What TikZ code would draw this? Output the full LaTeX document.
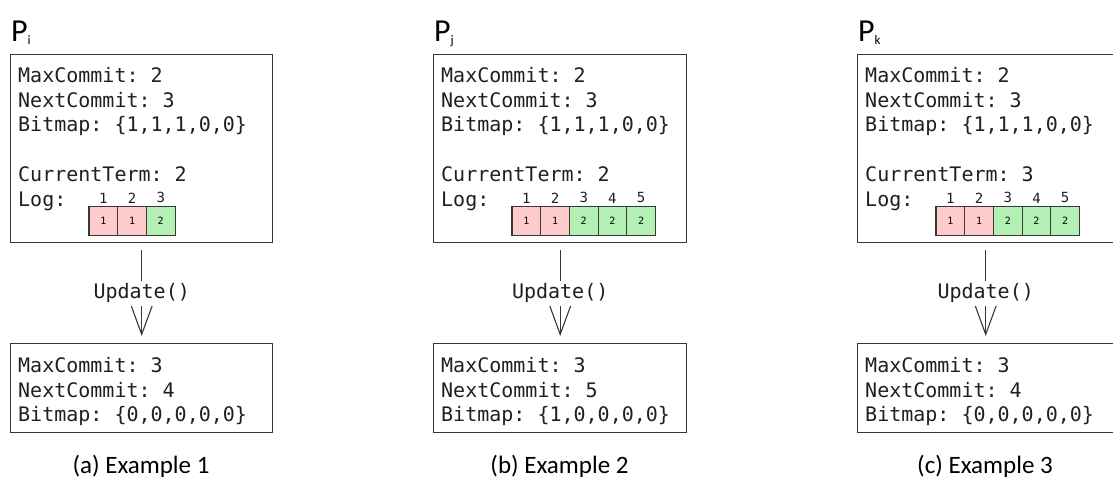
\documentclass[tikz,border=0pt]{standalone}
\usepackage{fontspec}
\setmainfont{Carlito}
\setmonofont{DejaVu Sans Mono}
\usetikzlibrary{arrows.meta}
\definecolor{logpink}{RGB}{255,204,204}
\definecolor{loggreen}{RGB}{180,240,180}
\definecolor{boxgray}{RGB}{55,55,55}

\begin{document}
\begin{tikzpicture}[x=1pt,y=-1pt,
    statebox/.style={draw=boxgray, line width=1.4pt, inner sep=0pt, anchor=north west},
    statetext/.style={font=\ttfamily\fontsize{20}{24.8}\selectfont, align=left, inner sep=0pt, anchor=north west, text=black!88},
    logcell/.style={draw=boxgray, line width=1.1pt, minimum width=28.7pt, minimum height=28.5pt, inner sep=0pt, font=\ttfamily\fontsize{10}{10}\selectfont},
    collabel/.style={font=\ttfamily\fontsize{14}{14}\selectfont, inner sep=1pt, label distance=2pt, text=black!88},
    update/.style={draw=boxgray, line width=1.1pt, -{Straight Barb[length=30pt,width=22pt]}, shorten <=7pt, shorten >=7pt},
    updlabel/.style={fill=white, font=\ttfamily\fontsize{20}{20}\selectfont, inner sep=3pt, text=black!88},
    plabel/.style={font=\fontsize{32}{32}\selectfont, anchor=base west, inner sep=0pt},
    caption/.style={font=\fontsize{25}{25}\selectfont, inner sep=0pt}]
  \useasboundingbox (0,0) rectangle (1113,492);
  \foreach \n/\x/\w/\s/\t/\k/\nc/\bm/\num in {a/10/262/i/2/3/4/{0,0,0,0,0}/1,
      b/433/253/j/2/5/5/{1,0,0,0,0}/2, c/857/256/k/3/5/4/{0,0,0,0,0}/3}{
    % process name
    \node[plabel] (\n-p) at (\x+1,42) {P\raisebox{-3pt}{\fontsize{13}{13}\selectfont\s}};
    % state before update
    \node[statebox, minimum width=\w pt, minimum height=188pt] (\n-top) at (\x,54) {};
    \node[statetext] (\n-toptxt) at (\x+8,67)
      {MaxCommit: 2\\NextCommit: 3\\Bitmap: \{1,1,1,0,0\}\\[24.8pt]CurrentTerm: \t\\Log:};
    \foreach \cell in {1,...,\k}{
      \ifnum\cell<3 \def\cellfill{logpink}\def\cellval{1}\else\def\cellfill{loggreen}\def\cellval{2}\fi
      \node[logcell, fill=\cellfill, label={[collabel]above:\cell}] (\n-c\cell)
        at (\x+79+14.35+28.7*\cell-28.7,221) {\cellval};
    }
    % state after update
    \node[statebox, minimum width=\w pt, minimum height=89pt] (\n-bot) at (\x,343) {};
    \node[statetext] (\n-bottxt) at (\x+8,357)
      {MaxCommit: 3\\NextCommit: \nc\\Bitmap: \{\bm\}};
    \draw[update] (\n-top.south) -- node[updlabel] (\n-upd) {Update()} (\n-bot.north);
    \node[caption] (\n-cap) at (\x+\w/2,466) {(\n) Example \num};
  }
\end{tikzpicture}
\end{document}
